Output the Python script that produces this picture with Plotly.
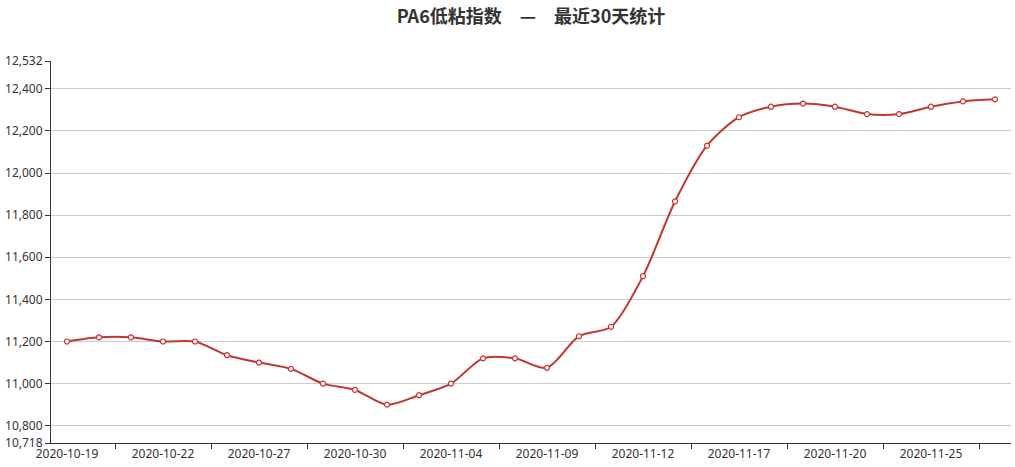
import plotly.graph_objects as go

dates = ["2020-10-19", "2020-10-20", "2020-10-21", "2020-10-22", "2020-10-23", "2020-10-26",
         "2020-10-27", "2020-10-28", "2020-10-29", "2020-10-30", "2020-11-02", "2020-11-03",
         "2020-11-04", "2020-11-05", "2020-11-06", "2020-11-09", "2020-11-10", "2020-11-11",
         "2020-11-12", "2020-11-13", "2020-11-16", "2020-11-17", "2020-11-18", "2020-11-19",
         "2020-11-20", "2020-11-23", "2020-11-24", "2020-11-25", "2020-11-26", "2020-11-27"]
values = [11200, 11220, 11220, 11200, 11200, 11135, 11100, 11070, 11000, 10970,
          10900, 10945, 11000, 11120, 11120, 11075, 11225, 11270, 11510, 11865,
          12130, 12265, 12315, 12330, 12315, 12280, 12280, 12315, 12340, 12350]
y_min = 10718
y_max = 12532
y_ticks = [10718, 10800, 11000, 11200, 11400, 11600, 11800, 12000, 12200, 12400, 12532]
title_text = "PA6低粘指数　—　最近30天统计"

idx = list(range(len(dates)))
label_idx = idx[::3]
tick_pos = [i + 1.5 for i in idx[::3]]

W, H = 1015, 467

fig = go.Figure()
fig.add_trace(go.Scatter(
    x=idx, y=values, mode="lines+markers",
    line=dict(color="#c23531", width=2, shape="spline", smoothing=0.8),
    marker=dict(symbol="circle", size=5, color="white",
                line=dict(color="#c23531", width=1.2)),
    hovertext=dates, hoverinfo="text+y",
))

title_font = "Noto Sans CJK SC, Noto Sans, sans-serif"
tick_font = "Noto Sans, Noto Sans CJK SC, sans-serif"
fig.update_layout(
    width=W, height=H,
    margin=dict(l=51, r=4, t=61, b=24, autoexpand=False),
    paper_bgcolor="white", plot_bgcolor="white",
    showlegend=False,
    font=dict(family=tick_font, size=12, color="#333"),
    title=dict(text="<b>" + title_text + "</b>", x=0.5, xref="paper", xanchor="center",
               y=1 - 17 / H, yanchor="middle",
               font=dict(size=18, color="#333", family=title_font)),
    xaxis=dict(
        range=[-0.5, len(dates) - 0.5],
        tickmode="array", tickvals=label_idx, ticktext=[dates[i] for i in label_idx],
        ticks="", showgrid=False, zeroline=False, automargin=False,
        showline=True, linecolor="#333", linewidth=1,
        tickfont=dict(size=12, color="#333"),
        minor=dict(tickmode="array", tickvals=tick_pos, ticks="outside",
                   ticklen=5, tickcolor="#333", tickwidth=1, showgrid=False),
        fixedrange=True,
    ),
    yaxis=dict(
        range=[y_min, y_max],
        tickmode="array", tickvals=y_ticks, ticktext=[f"{v:,}" for v in y_ticks],
        ticks="outside", ticklen=5, tickcolor="#333", automargin=False,
        showgrid=True, gridcolor="#ccc", gridwidth=1, zeroline=False,
        showline=True, linecolor="#333", linewidth=1,
        tickfont=dict(size=12, color="#333"),
        fixedrange=True,
    ),
)

# remove the browser's default 8px body margin so the figure sits at the page origin
post = "document.body.style.margin='0';document.body.style.overflow='hidden';"
fig.write_html("out.html", post_script=post, config={"displayModeBar": False})
